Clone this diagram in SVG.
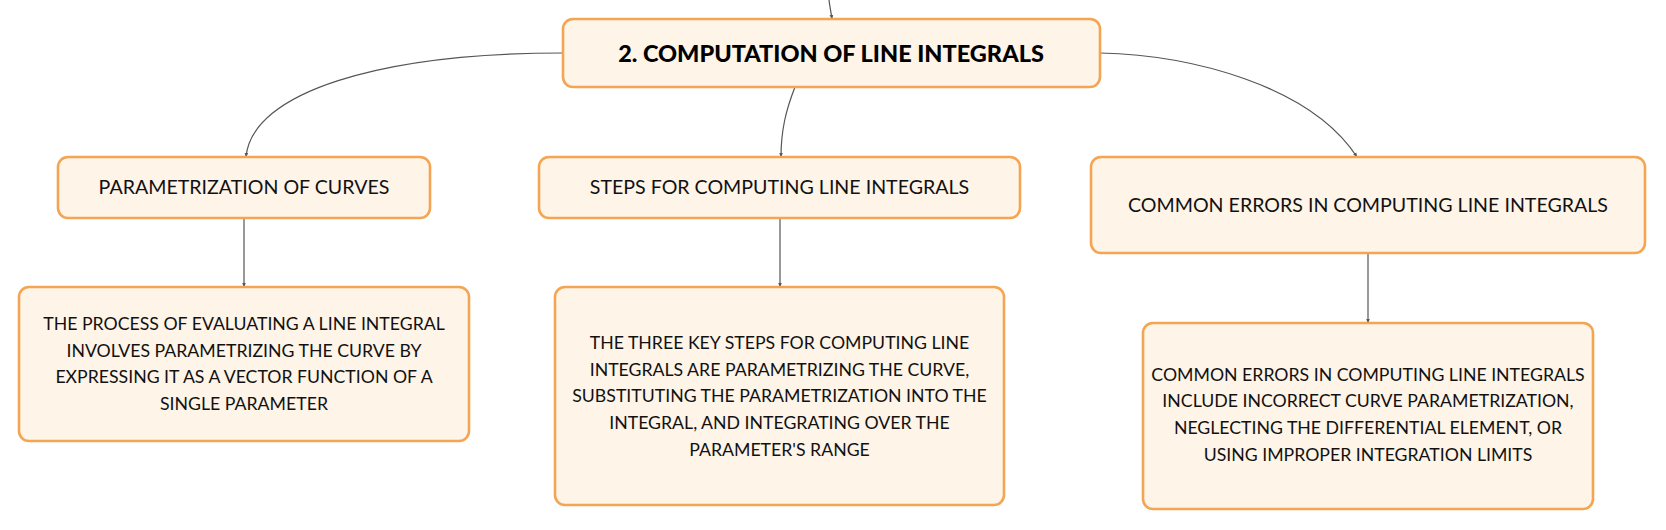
<svg xmlns="http://www.w3.org/2000/svg" width="1666" height="530" viewBox="0 0 1666 530">
<style>
.box{fill:#FEF4E8;stroke:#F4A553;stroke-width:2.6}
.t{font-family:Lato,"Liberation Sans",sans-serif;font-size:17.7px;fill:#111;text-anchor:middle}
.s{font-family:Lato,"Liberation Sans",sans-serif;font-size:19.6px;fill:#111;text-anchor:middle}
.h{font-family:Lato,"Liberation Sans",sans-serif;font-size:23.5px;font-weight:900;fill:#000;text-anchor:middle}
.c{fill:none;stroke:#555;stroke-width:1.2}
</style>
<defs>
<marker id="arr" viewBox="0 0 10 10" refX="9" refY="5" markerWidth="4.5" markerHeight="4.5" orient="auto-start-reverse" markerUnits="userSpaceOnUse">
<path d="M0,1 L10,5 L0,9 z" fill="#555"/>
</marker>
</defs>
<rect width="1666" height="530" fill="#fff"/>
<g id="connectors">
<path class="c" d="M829,0 C830,8 831,12 832,19" marker-end="url(#arr)"/>
<path class="c" d="M563,53 C380,53 252,92 246,157" marker-end="url(#arr)"/>
<path class="c" d="M795,87 C786,110 781,130 781,157" marker-end="url(#arr)"/>
<path class="c" d="M1100,53 C1190,55 1310,85 1357,157" marker-end="url(#arr)"/>
<path class="c" d="M244,218 L244,287" marker-end="url(#arr)"/>
<path class="c" d="M780,218 L780,287" marker-end="url(#arr)"/>
<path class="c" d="M1368,253 L1368,323" marker-end="url(#arr)"/>
</g>
<g id="main">
<rect class="box" x="563" y="19" width="537" height="68" rx="10"/>
<text class="h" x="831" y="61.5">2. COMPUTATION OF LINE INTEGRALS</text>
</g>
<g id="param">
<rect class="box" x="58" y="157" width="372" height="61" rx="10"/>
<text class="s" x="244" y="194">PARAMETRIZATION OF CURVES</text>
</g>
<g id="steps">
<rect class="box" x="539" y="157" width="481" height="61" rx="10"/>
<text class="s" x="779.5" y="194">STEPS FOR COMPUTING LINE INTEGRALS</text>
</g>
<g id="errors">
<rect class="box" x="1091" y="157" width="554" height="96" rx="10"/>
<text class="s" x="1368" y="212">COMMON ERRORS IN COMPUTING LINE INTEGRALS</text>
</g>
<g id="param-detail">
<rect class="box" x="19" y="287" width="450" height="154" rx="10"/>
<text class="t" x="244" y="330">THE PROCESS OF EVALUATING A LINE INTEGRAL</text>
<text class="t" x="244" y="357">INVOLVES PARAMETRIZING THE CURVE BY</text>
<text class="t" x="244" y="383">EXPRESSING IT AS A VECTOR FUNCTION OF A</text>
<text class="t" x="244" y="410">SINGLE PARAMETER</text>
</g>
<g id="steps-detail">
<rect class="box" x="555" y="287" width="449" height="218" rx="10"/>
<text class="t" x="779.5" y="349">THE THREE KEY STEPS FOR COMPUTING LINE</text>
<text class="t" x="779.5" y="376">INTEGRALS ARE PARAMETRIZING THE CURVE,</text>
<text class="t" x="779.5" y="402">SUBSTITUTING THE PARAMETRIZATION INTO THE</text>
<text class="t" x="779.5" y="429">INTEGRAL, AND INTEGRATING OVER THE</text>
<text class="t" x="779.5" y="456">PARAMETER'S RANGE</text>
</g>
<g id="errors-detail">
<rect class="box" x="1143" y="323" width="450" height="186" rx="10"/>
<text class="t" x="1368" y="381">COMMON ERRORS IN COMPUTING LINE INTEGRALS</text>
<text class="t" x="1368" y="407">INCLUDE INCORRECT CURVE PARAMETRIZATION,</text>
<text class="t" x="1368" y="434">NEGLECTING THE DIFFERENTIAL ELEMENT, OR</text>
<text class="t" x="1368" y="461">USING IMPROPER INTEGRATION LIMITS</text>
</g>
</svg>
